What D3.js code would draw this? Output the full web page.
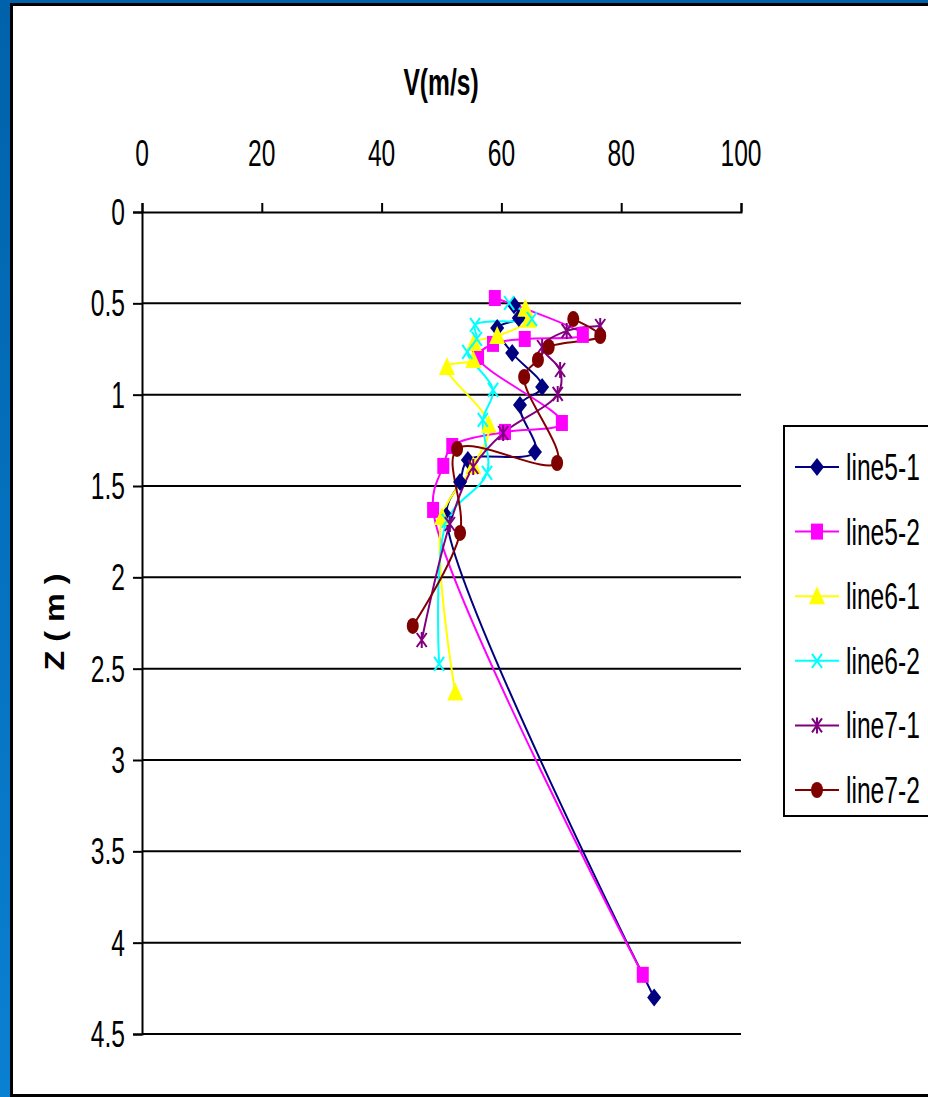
<!DOCTYPE html>
<html>
<head>
<meta charset="utf-8">
<script src="https://cdn.jsdelivr.net/npm/d3@7"></script>
<style>
  body { margin: 0; background: #fff; }
  text { font-family: "Liberation Sans", Arial, sans-serif; }
</style>
</head>
<body>
<div id="chart"></div>
<script>
// series names + colours
var names = ["line5-1", "line5-2", "line6-1", "line6-2", "line7-1", "line7-2"];
var colors = ["#000080", "#ff00ff", "#ffff00", "#00ffff", "#800080", "#800000"];
var shapes = ["diamond", "square", "triangle", "x", "star", "circle"];

// velocity (m/s) and depth z (m)
var v51 = [62.1, 62.9, 59.3, 61.8, 66.8, 63.1, 65.6, 54.4, 53.1, 50.8, 85.5];
var z51 = [0.51, 0.58, 0.635, 0.772, 0.958, 1.056, 1.314, 1.357, 1.478, 1.664, 4.30];

var v52 = [58.9, 73.6, 63.9, 58.6, 56.1, 70.1, 60.6, 51.8, 50.3, 48.6, 83.6];
var z52 = [0.471, 0.673, 0.695, 0.722, 0.794, 1.155, 1.204, 1.281, 1.39, 1.631, 4.176];

var v61 = [64.0, 64.6, 59.3, 55.4, 55.3, 50.9, 57.9, 55.3, 50.1, 52.3];
var z61 = [0.53, 0.59, 0.679, 0.717, 0.81, 0.848, 1.166, 1.39, 1.67, 2.63];

var v62 = [61.3, 65.1, 55.6, 55.9, 54.3, 58.6, 56.9, 57.6, 50.9, 49.6];
var z62 = [0.498, 0.586, 0.618, 0.695, 0.766, 0.974, 1.138, 1.428, 1.69, 2.474];

var v71 = [76.5, 70.9, 66.8, 69.8, 69.4, 60.3, 55.3, 51.4, 46.7];
var z71 = [0.624, 0.651, 0.739, 0.865, 0.996, 1.21, 1.396, 1.708, 2.343];

var v72 = [72.0, 76.5, 67.9, 66.1, 63.8, 69.3, 52.6, 53.1, 45.2];
var z72 = [0.586, 0.679, 0.739, 0.81, 0.903, 1.374, 1.297, 1.757, 2.266];

var xTicks = [0, 20, 40, 60, 80, 100];
var yTicks = [0, 0.5, 1, 1.5, 2, 2.5, 3, 3.5, 4, 4.5];

var allV = [v51, v52, v61, v62, v71, v72];
var allZ = [z51, z52, z61, z62, z71, z72];
var series = names.map(function(n, i) {
  return { name: n, color: colors[i], shape: shapes[i],
    pts: allV[i].map(function(v, j) { return { v: v, z: allZ[i][j] }; }) };
});

var W = 928, H = 1097;
var svg = d3.select("#chart").append("svg")
  .attr("width", W)
  .attr("height", H);

// slide frame
var grad = svg.append("defs").append("linearGradient")
  .attr("id", "blue").attr("x1", 0).attr("y1", 0).attr("x2", 0).attr("y2", 1);
grad.append("stop").attr("offset", "0%").attr("stop-color", "#0062aa");
grad.append("stop").attr("offset", "100%").attr("stop-color", "#0a80d2");
svg.append("rect").attr("width", W).attr("height", H).attr("fill", "url(#blue)");
svg.append("rect").attr("x", 10).attr("y", 3).attr("width", W - 10).attr("height", H - 3).attr("fill", "#000");
svg.append("rect").attr("x", 13).attr("y", 6).attr("width", W - 13).attr("height", H - 9).attr("fill", "#fff");

var x = d3.scaleLinear().domain([0, 100]).range([142, 741]);
var y = d3.scaleLinear().domain([0, 4.5]).range([212, 1034]);

// condensed-looking text: squeeze wide, stretch tall
var squash = " scale(0.82,1.2)";

// gridlines
svg.append("g").selectAll("line")
  .data(yTicks.slice(1))
  .enter().append("line")
  .attr("x1", x(0)).attr("x2", x(100))
  .attr("y1", function(d) { return y(d); })
  .attr("y2", function(d) { return y(d); })
  .attr("stroke", "#000").attr("stroke-width", 2);

// top axis
var xAxis = svg.append("g").attr("transform", "translate(0," + y(0) + ")")
  .call(d3.axisTop(x).tickValues(xTicks).tickSize(9).tickFormat(""));
xAxis.select(".domain").attr("stroke-width", 2);
xAxis.selectAll(".tick line").attr("stroke-width", 2);

svg.append("g").selectAll("text")
  .data(xTicks)
  .enter().append("text")
  .attr("transform", function(d) { return "translate(" + x(d) + ",166)" + squash; })
  .attr("text-anchor", "middle")
  .attr("font-size", 30)
  .text(function(d) { return d; });

// left axis
var yAxis = svg.append("g").attr("transform", "translate(" + x(0) + ",0)")
  .call(d3.axisLeft(y).tickValues(yTicks).tickSize(9).tickFormat(""));
yAxis.select(".domain").attr("stroke-width", 2);
yAxis.selectAll(".tick line").attr("stroke-width", 2);

svg.append("g").selectAll("text")
  .data(yTicks)
  .enter().append("text")
  .attr("transform", function(d) { return "translate(125," + (y(d) + 13) + ")" + squash; })
  .attr("text-anchor", "end")
  .attr("font-size", 30)
  .text(function(d) { return d; });

// titles
svg.append("text")
  .attr("transform", "translate(441,95)" + squash)
  .attr("text-anchor", "middle")
  .attr("font-size", 30)
  .attr("font-weight", "bold")
  .text("V(m/s)");

svg.append("text")
  .attr("transform", "translate(64,622) rotate(-90) scale(1.2,1)")
  .attr("text-anchor", "middle")
  .attr("font-size", 27)
  .attr("font-weight", "bold")
  .text("Z ( m )");

// markers
function marker(g, shape, color) {
  if (shape === "diamond") {
    g.append("path").attr("d", "M0,-9L7,0L0,9L-7,0Z").attr("fill", color);
  } else if (shape === "square") {
    g.append("rect").attr("x", -6).attr("y", -8).attr("width", 12).attr("height", 16).attr("fill", color);
  } else if (shape === "triangle") {
    g.append("path").attr("d", "M0,-10L8,8L-8,8Z").attr("fill", color);
  } else if (shape === "x") {
    g.append("path").attr("d", "M-5,-7L5,7M-5,7L5,-7").attr("stroke", color).attr("stroke-width", 2).attr("fill", "none");
  } else if (shape === "star") {
    g.append("path").attr("d", "M-5,-7L5,7M-5,7L5,-7M0,-8L0,8").attr("stroke", color).attr("stroke-width", 2).attr("fill", "none");
  } else {
    g.append("ellipse").attr("rx", 6).attr("ry", 8).attr("fill", color);
  }
}

var line = d3.line()
  .x(function(d) { return x(d.v); })
  .y(function(d) { return y(d.z); })
  .curve(d3.curveCatmullRom.alpha(0.5));

var plot = svg.append("g");
series.forEach(function(s) {
  plot.append("path")
    .datum(s.pts)
    .attr("d", line)
    .attr("fill", "none")
    .attr("stroke", s.color)
    .attr("stroke-width", 2);
});
series.forEach(function(s) {
  s.pts.forEach(function(p) {
    var g = plot.append("g").attr("transform", "translate(" + x(p.v) + "," + y(p.z) + ")");
    marker(g, s.shape, s.color);
  });
});

// legend (box runs past the right edge, as in the slide)
var leg = svg.append("g");
leg.append("rect")
  .attr("x", 784).attr("y", 426).attr("width", 200).attr("height", 390)
  .attr("fill", "#fff").attr("stroke", "#000").attr("stroke-width", 2);
series.forEach(function(s, i) {
  var ly = 467 + i * 64.6;
  leg.append("line").attr("x1", 795).attr("x2", 839).attr("y1", ly).attr("y2", ly)
    .attr("stroke", s.color).attr("stroke-width", 2);
  marker(leg.append("g").attr("transform", "translate(817," + ly + ")"), s.shape, s.color);
  leg.append("text")
    .attr("transform", "translate(846," + (ly + 13) + ")" + squash)
    .attr("font-size", 30)
    .text(s.name);
});
</script>
</body>
</html>
